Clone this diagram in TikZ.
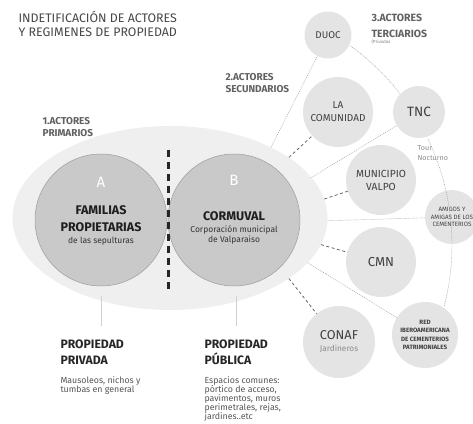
\documentclass[tikz,border=0pt]{standalone}
\usepackage{fontspec}
\setmainfont{Fira Sans}
\usetikzlibrary{shapes.geometric, positioning}

\definecolor{ellfill}{HTML}{EFEFEF}
\definecolor{primfill}{HTML}{C9C9C9}
\definecolor{primline}{HTML}{9C9C9C}
\definecolor{actfill}{HTML}{E4E4E4}
\definecolor{inktext}{HTML}{555555}
\definecolor{darktext}{HTML}{1E1E1E}

\newcommand{\subline}[1]{{\mdseries\fontsize{8.5}{10}\selectfont\color{black!80}#1}}

\begin{document}
\begin{tikzpicture}[
        x=1pt, y=1pt,
        primary/.style={draw=primline, line width=0.5pt, fill=primfill, circle, minimum size=132pt, inner sep=0pt},
        owner/.style={align=center, text=darktext, font=\bfseries\fontsize{12.5}{17}\selectfont},
        actor/.style={fill=actfill, circle, inner sep=0pt, align=center, text=darktext!85},
        link/.style={draw=black!60, line width=0.8pt, dash pattern=on 3pt off 2.5pt},
        tie/.style={draw=black!42, line width=0.4pt, dash pattern=on 1pt off 1pt},
        heading/.style={anchor=west, align=left, font=\bfseries\fontsize{10}{12.5}\selectfont, text=black!62},
        stem/.style={draw=black!18, line width=0.7pt},
        regime/.style={anchor=north west, align=left, font=\bfseries\fontsize{12.2}{16}\selectfont, text=black!85},
        desc/.style={anchor=north west, align=left, font=\fontsize{8.8}{9}\selectfont, text=inktext}
    ]
\useasboundingbox (0,0) rectangle (473,423);

% title
\node[anchor=west, align=left, font=\fontsize{12.4}{14}\selectfont, text=black!72] (title) at (15,399)
    {INDETIFICACIÓN DE ACTORES\\Y REGIMENES DE PROPIEDAD};

% primary actors
\node[ellipse, fill=ellfill, minimum width=315pt, minimum height=184pt, inner sep=0pt] (prim) at (170,205) {};
\node[heading] (lvlone) at (39,296) {1.ACTORES\\PRIMARIOS};

% links to the other actors
\draw[link] (prim.27) -- (338,311);
\draw[tie] (prim.35) -- (328,388);
\draw[tie] (prim.16) -- (419,311);
\draw[link] (prim.7) -- (381,243);
\draw[tie] (prim.-1) -- (452,206);
\draw[link] (prim.-10) -- (381,161);
\draw[tie] (prim.-18) -- (425,88);
\draw[link] (prim.-27) -- (339,81);

% secondary actors
\node[actor, minimum size=70pt, font=\fontsize{10}{13}\selectfont] (comunidad) at (338,311) {LA\\COMUNIDAD};
\node[actor, minimum size=70pt, font=\fontsize{10.3}{13}\selectfont] (municipio) at (381,243) {MUNICIPIO\\VALPO};
\node[actor, minimum size=70pt, font=\fontsize{13}{14}\selectfont] (cmn) at (381,161) {CMN};
\node[actor, minimum size=72pt, font=\fontsize{12.8}{12}\selectfont] (conaf) at (339,81)
    {CONAF\\ {\fontsize{8.3}{10}\selectfont\color{black!45}Jardineros}};
\node[heading] (lvltwo) at (222,340) {2.ACTORES\\SECUNDARIOS};

% tertiary actors
\node[actor, minimum size=47pt, font=\fontsize{9.8}{11}\selectfont] (duoc) at (328,388) {DUOC};
\node[actor, minimum size=52pt, font=\fontsize{13.5}{14}\selectfont] (tnc) at (419,311) {TNC};
\node[actor, minimum size=54pt, font=\fontsize{6.2}{7.8}\selectfont] (amigos) at (452,206) {AMIGOS Y\\AMIGAS DE LOS\\CEMENTERIOS};
\node[actor, minimum size=66pt, font=\bfseries\fontsize{6.2}{8.2}\selectfont] (red) at (425,88)
    {RED\\IBEROAMERICANA\\DE CEMENTERIOS\\PATRIMONIALES};
\node[heading, font=\bfseries\fontsize{10.5}{16}\selectfont] (lvlthree) at (368,397) {3.ACTORES\\TERCIARIOS};
\node[anchor=west, font=\fontsize{4.5}{5}\selectfont, text=black!50] (privados) at (368,381) {(Privados};
\node[anchor=west, align=left, font=\fontsize{7.2}{10}\selectfont, text=black!45] (tour) at (414,270) {Tour\\Nocturno};

% ring of the tertiary actors
\coordinate (ring) at (206,178);
\draw[tie] (ring) ++(54:246) arc[start angle=54, end angle=38, radius=246];
\draw[tie] (ring) ++(25.5:246) arc[start angle=25.5, end angle=-14.5, radius=246];

% owners
\node[primary] (familias) at (101,203) {};
\node[primary] (cormuval) at (234,203) {};
\node[owner] (famtext) at ([yshift=-5.5pt]familias.center)
    {FAMILIAS\\ PROPIETARIAS\\[-5pt] \subline{de las sepulturas}};
\node[owner] (cortext) at ([yshift=-8pt]cormuval.center)
    {CORMUVAL\\[-5pt] \subline{Corporación municipal}\\[-7pt] \subline{de Valparaiso}};
\node[font=\fontsize{15}{15}\selectfont, text=white] (leta) at ([yshift=38pt]familias.center) {A};
\node[font=\fontsize{15}{15}\selectfont, text=white] (letb) at ([yshift=40pt]cormuval.center) {B};

% boundary between the two regimes
\coordinate (cuttop) at (168,273);
\coordinate (cutbot) at (168,131);
\draw[black!85, line width=3pt, dash pattern=on 7pt off 5pt] (cuttop) -- (cutbot);

% property regimes
\draw[stem] ([yshift=-10pt]familias.south) -- ++(0,-30);
\draw[stem] ([yshift=-10pt,xshift=2pt]cormuval.south) -- ++(0,-30);
\node[regime] (privada) at (57,87) {PROPIEDAD\\PRIVADA};
\node[desc] (privdesc) at ([yshift=-5pt]privada.south west) {Mausoleos, nichos y\\tumbas en general};
\node[regime] (publica) at (201,87) {PROPIEDAD\\PÚBLICA};
\node[desc] (pubdesc) at ([yshift=-5pt]publica.south west)
    {Espacios comunes:\\pórtico de acceso,\\pavimentos, muros\\perimetrales, rejas,\\jardines..etc};
\end{tikzpicture}
\end{document}
